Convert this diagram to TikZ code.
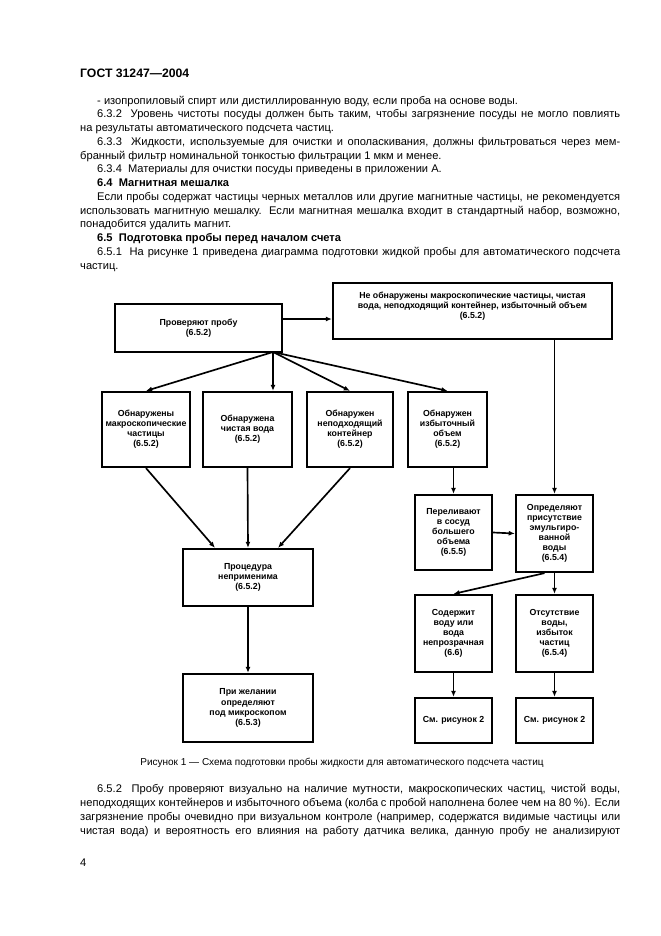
\documentclass[tikz,border=0pt]{standalone}
\usepackage{fontspec}
\setmainfont{Liberation Sans}
\usetikzlibrary{arrows.meta,calc}
\newdimen\px \px=0.9pt
\newcommand\bodyfont{\fontsize{10}{12}\selectfont}
\newcommand\boxfont{\fontsize{7.9}{9.1}\selectfont\bfseries}
\newcommand\capfont{\fontsize{9}{11}\selectfont}
\newcommand\jl[2]{\makebox[#1\px][s]{#2}}
\begin{document}
\begin{tikzpicture}[x=0.9pt,y=-0.9pt,
  tl/.style={anchor=base west,inner sep=0pt,font=\bodyfont},
  bx/.style 2 args={draw,line width=2pt,minimum width=#1*0.9pt,minimum height=#2*0.9pt,inner sep=1pt,align=center,font=\boxfont},
  arr/.style={line width=1.5pt,-{Latex[length=5.5pt,width=4.5pt]}}]
\useasboundingbox[fill=white] (0,0) rectangle (661,936);
% ---- text above the figure
\node[tl,font=\fontsize{11}{13}\selectfont\bfseries] (hdr) at (80,77) {ГОСТ 31247—2004};
\node[tl] (l1) at (97,104) {- изопропиловый спирт или дистиллированную воду, если проба на основе воды.};
\node[tl] (l2) at (97,117.75) {\jl{523}{6.3.2\ \ Уровень чистоты посуды должен быть таким, чтобы загрязнение посуды не могло повлиять}};
\node[tl] (l3) at (80,131.5) {на результаты автоматического подсчета частиц.};
\node[tl] (l4) at (97,145.25) {\jl{523}{6.3.3\ \ Жидкости, используемые для очистки и ополаскивания, должны фильтроваться через мем-}};
\node[tl] (l5) at (80,159) {бранный фильтр номинальной тонкостью фильтрации 1 мкм и менее.};
\node[tl] (l6) at (97,172.75) {6.3.4\ \ Материалы для очистки посуды приведены в приложении А.};
\node[tl,font=\bodyfont\bfseries] (l7) at (97,186.5) {6.4\ \ Магнитная мешалка};
\node[tl] (l8) at (97,200.25) {\jl{523}{Если пробы содержат частицы черных металлов или другие магнитные частицы, не рекомендуется}};
\node[tl] (l9) at (80,214) {\jl{540}{использовать магнитную мешалку. Если магнитная мешалка входит в стандартный набор, возможно,}};
\node[tl] (l10) at (80,227.75) {понадобится удалить магнит.};
\node[tl,font=\bodyfont\bfseries] (l11) at (97,241.5) {6.5\ \ Подготовка пробы перед началом счета};
\node[tl] (l12) at (97,255.25) {\jl{523}{6.5.1\ \ На рисунке 1 приведена диаграмма подготовки жидкой пробы для автоматического подсчета}};
\node[tl] (l13) at (80,269) {частиц.};
% ---- boxes
\node[bx={167}{48}] (chk) at (198.5,328) {Проверяют пробу\\(6.5.2)};
\node[bx={279}{56}] (nf) at (472.5,311) {};
\node[font=\boxfont,align=center,inner sep=0pt] (nft) at ($(nf.center)+(0,-5)$) {Не обнаружены макроскопические частицы, чистая\\вода, неподходящий контейнер, избыточный объем\\(6.5.2)};
\node[bx={88}{75}] (b1) at (146,429.5) {Обнаружены\\макроскопические\\частицы\\(6.5.2)};
\node[bx={89}{75}] (b2) at (247.5,429.5) {Обнаружена\\чистая вода\\(6.5.2)};
\node[bx={86}{75}] (b3) at (350,429.5) {Обнаружен\\неподходящий\\контейнер\\(6.5.2)};
\node[bx={79}{75}] (b4) at (447.5,429.5) {Обнаружен\\избыточный\\объем\\(6.5.2)};
\node[bx={77}{75}] (pour) at (453.5,532.5) {Переливают\\в сосуд\\большего\\объема\\(6.5.5)};
\node[bx={77}{77}] (det) at (554.5,533.5) {Определяют\\присутствие\\эмульгиро-\\ванной\\воды\\(6.5.4)};
\node[bx={130}{57}] (proc) at (248,577.5) {Процедура\\неприменима\\(6.5.2)};
\node[bx={130}{68}] (micro) at (248,708) {При желании\\определяют\\под микроскопом\\(6.5.3)};
\node[bx={77}{77}] (cont) at (453.5,633.5) {Содержит\\воду или\\вода\\непрозрачная\\(6.6)};
\node[bx={77}{77}] (abs) at (554.5,633.5) {Отсутствие\\воды,\\избыток\\частиц\\(6.5.4)};
\node[bx={77}{45}] (see1) at (453.5,720.5) {См. рисунок 2};
\node[bx={77}{45}] (see2) at (554.5,720.5) {См. рисунок 2};
% ---- connectors
\coordinate (fan) at (273,352);
\draw[arr] ($(chk.east)+(0,-9)$) -- ($(nf.west)+(0,8)$);
\draw[arr] (fan) -- (b1.north);
\draw[arr] (fan) -- (b2.north -| fan);
\draw[arr] (fan) -- (b3.north);
\draw[arr] (fan) -- (b4.north);
\draw[arr] (b1.south) -- ($(proc.north)+(-33,0)$);
\draw[arr] (b2.south) -- (proc.north);
\draw[arr] (b3.south) -- ($(proc.north)+(30,0)$);
\draw[arr] (proc.south) -- (micro.north);
\draw[arr] (b4.south -| pour.north) -- (pour.north);
\draw[arr] (nf.south -| det.north) -- (det.north);
\draw[arr] (pour.east) -- (det.west);
\draw[arr] ($(det.south)+(-10,0)$) -- (cont.north);
\draw[arr] (det.south) -- (abs.north);
\draw[arr] (cont.south) -- (see1.north);
\draw[arr] (abs.south) -- (see2.north);
% ---- text below the figure
\node[anchor=base,inner sep=0pt,font=\capfont] (cap) at (342,765) {Рисунок 1 — Схема подготовки пробы жидкости для автоматического подсчета частиц};
\node[tl] (p1) at (97,792) {\jl{523}{6.5.2\ \ Пробу проверяют визуально на наличие мутности, макроскопических частиц, чистой воды,}};
\node[tl] (p2) at (80,806) {\jl{540}{неподходящих контейнеров и избыточного объема (колба с пробой наполнена более чем на 80~\%). Если}};
\node[tl] (p3) at (80,820) {\jl{540}{загрязнение пробы очевидно при визуальном контроле (например, содержатся видимые частицы или}};
\node[tl] (p4) at (80,834) {\jl{540}{чистая вода) и вероятность его влияния на работу датчика велика, данную пробу не анализируют}};
\node[tl] (pg) at (80,866) {4};
\end{tikzpicture}
\end{document}
